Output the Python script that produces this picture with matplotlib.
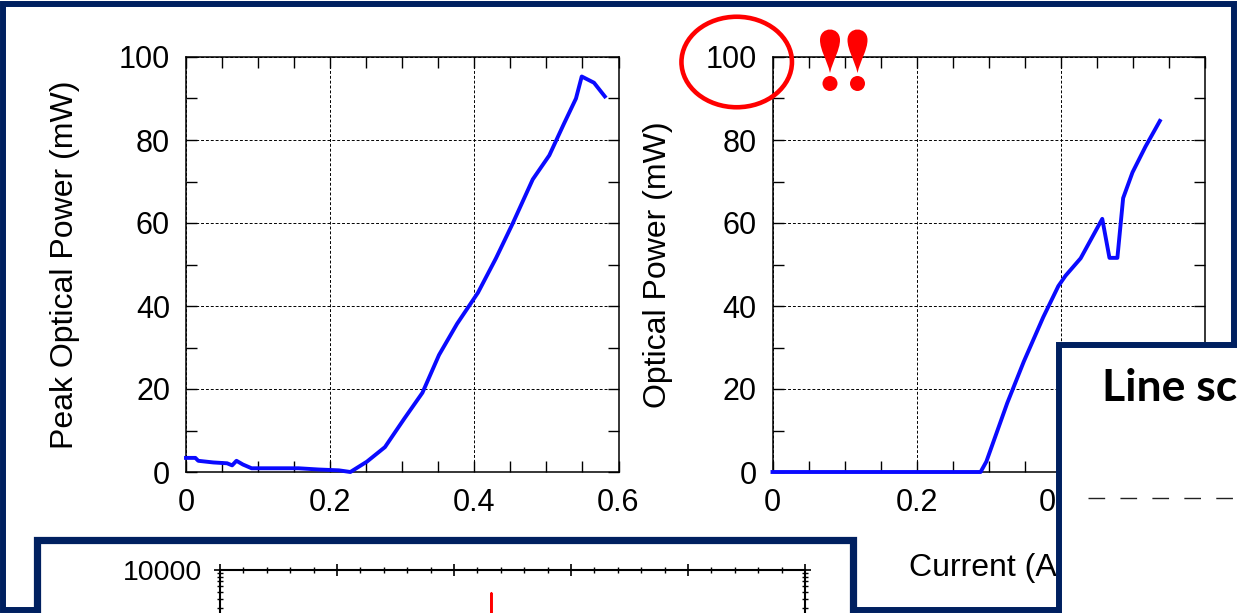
import matplotlib.pyplot as plt
from matplotlib.patches import Rectangle, Ellipse, PathPatch
from matplotlib.path import Path
from matplotlib.lines import Line2D
from matplotlib.ticker import MultipleLocator, FixedLocator, LogLocator, FuncFormatter, NullFormatter

plt.rcParams['font.family'] = ['Liberation Sans', 'DejaVu Sans']

# pulsed L-I curve (peak power)
peak_current = [0.0, 0.013, 0.017, 0.038, 0.057, 0.064, 0.070, 0.079, 0.091, 0.156, 0.184, 0.212,
                0.228, 0.251, 0.276, 0.303, 0.328, 0.351, 0.376, 0.405, 0.430, 0.453, 0.481,
                0.504, 0.524, 0.541, 0.549, 0.566, 0.581]
peak_power = [3.4, 3.4, 2.7, 2.3, 2.1, 1.6, 2.7, 1.8, 0.9, 0.9, 0.6, 0.4,
              0.0, 2.5, 6.0, 12.9, 19.1, 28.2, 35.7, 43.2, 51.5, 59.8, 70.5,
              76.3, 83.8, 90.0, 95.3, 93.8, 90.5]

# CW L-I curve
cw_current = [0.0, 0.289, 0.297, 0.326, 0.349, 0.376, 0.397, 0.407, 0.428, 0.458, 0.468,
              0.479, 0.487, 0.500, 0.518, 0.538]
cw_power = [0.0, 0.0, 2.5, 16.6, 26.6, 37.3, 44.8, 47.3, 51.5, 61.0, 51.6,
            51.6, 66.0, 72.2, 78.4, 84.6]

# optical spectrum (only the lasing line)
spec_wavelength = [1540.0, 1551.3, 1551.6, 1551.9, 1565.0]
spec_power = [0.05, 0.05, 4800.0, 0.05, 0.05]

xticks = [0, 0.2, 0.4, 0.6]
xtick_labels = ['0', '0.2', '0.4', '0.6']

W, H = 1237, 613
NAVY = '#002060'


def fx(x):
    return x / W


def fy(y):
    return 1 - y / H


def px_axes(fig, left, top, right, bottom):
    return fig.add_axes([fx(left), fy(bottom), (right - left) / W, (bottom - top) / H])


def style_li(ax):
    ax.set_xlim(0, 0.6)
    ax.set_ylim(0, 100)
    ax.xaxis.set_major_locator(FixedLocator(xticks))
    ax.set_xticklabels(xtick_labels)
    ax.xaxis.set_minor_locator(MultipleLocator(0.05))
    ax.yaxis.set_major_locator(MultipleLocator(20))
    ax.yaxis.set_minor_locator(MultipleLocator(10))
    ax.tick_params(which='both', direction='in', top=True, right=True, length=8, width=1.0,
                   labelsize=22, pad=11.5, colors='black')
    ax.grid(True, which='major', color='black', linestyle=(0, (3, 2)), linewidth=0.7)
    for s in ax.spines.values():
        s.set_linewidth(1.1)


fig = plt.figure(figsize=(W / 100, H / 100), dpi=100)

# slide frame
fig.add_artist(Rectangle((fx(3), fy(610)), 1231 / W, 606 / H, transform=fig.transFigure,
                         fill=False, edgecolor=NAVY, linewidth=4.3, zorder=0.5))

# left: peak optical power
ax1 = px_axes(fig, 186, 57, 618.5, 472)
ax1.plot(peak_current, peak_power, color='#0a0aff', linewidth=2.8, clip_on=False, zorder=3)
style_li(ax1)
ax1.set_ylabel('Peak Optical Power (mW)', fontsize=23)
ax1.yaxis.set_label_coords(-0.244, 0.5)

# right: CW optical power
ax2 = px_axes(fig, 772.5, 57, 1204.5, 472)
ax2.plot(cw_current, cw_power, color='#0a0aff', linewidth=2.8, clip_on=False, zorder=3)
style_li(ax2)
ax2.set_ylabel('Optical Power (mW)', fontsize=23)
ax2.yaxis.set_label_coords(-0.230, 0.5)
ax2.set_xlabel('Current (A)', fontsize=23)
ax2.xaxis.set_label_coords(0.5, -0.196)

# bottom panel with the spectrum (only its top edge is on the slide)
fig.add_artist(Rectangle((fx(37), fy(660)), 816 / W, 120 / H, transform=fig.transFigure,
                         facecolor='white', edgecolor=NAVY, linewidth=5.2, zorder=2))
ax3 = px_axes(fig, 220, 570, 805, 1002)
ax3.set_zorder(3)
ax3.plot(spec_wavelength, spec_power, color='red', linewidth=1.5)
ax3.set_yscale('log')
ax3.set_xlim(1540, 1565)
ax3.set_ylim(1e-2, 1e4)
ax3.xaxis.set_major_locator(MultipleLocator(5))
ax3.xaxis.set_minor_locator(MultipleLocator(1))
ax3.yaxis.set_major_locator(LogLocator(base=10))
ax3.yaxis.set_minor_locator(LogLocator(base=10, subs=range(2, 10)))
# labels below the slide edge are not shown
ax3.yaxis.set_major_formatter(FuncFormatter(lambda v, pos: '%g' % v if v >= 1e4 else ''))
ax3.yaxis.set_minor_formatter(NullFormatter())
ax3.tick_params(which='major', direction='inout', length=8.6, width=1.2, top=True, right=True,
                labelbottom=False, labelsize=20.5, pad=8.5)
ax3.tick_params(which='minor', direction='inout', length=4.3, width=1.0, top=True, right=True)
for s in ax3.spines.values():
    s.set_linewidth(1.5)

# line scan panel on the right
fig.add_artist(Rectangle((fx(1059), fy(660)), 220 / W, 315 / H, transform=fig.transFigure,
                         facecolor='white', edgecolor=NAVY, linewidth=4.3, zorder=4))
fig.text(fx(1102), fy(401), 'Line scan', fontsize=32, fontweight='bold', family='Lato',
         ha='left', va='baseline', zorder=5)
fig.add_artist(Line2D([fx(1088), fx(1250)], [fy(498), fy(498)], transform=fig.transFigure,
                      color='#222222', linewidth=1.0, linestyle=(0, (12, 11)), zorder=5))

# red highlight on the 100 mW label
fig.add_artist(Ellipse((fx(736.7), fy(62)), 110.5 / W, 90.5 / H, transform=fig.transFigure,
                       fill=False, edgecolor='red', linewidth=3.3, zorder=6))


def bang(cx):
    pts = [(cx, 73), (cx - 3, 60), (cx - 10, 50), (cx - 10, 40), (cx - 10, 26), (cx + 10, 26),
           (cx + 10, 40), (cx + 10, 50), (cx + 3, 60), (cx, 73), (cx, 73)]
    codes = [Path.MOVETO] + [Path.CURVE4] * 9 + [Path.CLOSEPOLY]
    path = Path([(fx(x), fy(y)) for x, y in pts], codes)
    fig.add_artist(PathPatch(path, transform=fig.transFigure, facecolor='red', linewidth=0, zorder=6))
    fig.add_artist(Ellipse((fx(cx), fy(83.5)), 15 / W, 15 / H, transform=fig.transFigure,
                           facecolor='red', linewidth=0, zorder=6))


bang(830)
bang(857.5)

fig.savefig('out.png', dpi=100)
